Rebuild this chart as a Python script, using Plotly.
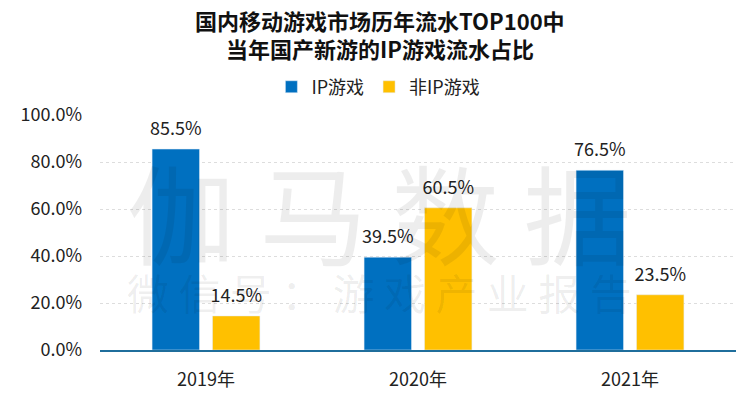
import plotly.graph_objects as go

categories = ["2019年", "2020年", "2021年"]
ip_values = [85.5, 39.5, 76.5]
non_ip_values = [14.5, 60.5, 23.5]
series_names = ["IP游戏", "非IP游戏"]
series_colors = ["#0070C0", "#FFC000"]
title_lines = ["国内移动游戏市场历年流水TOP100中", "当年国产新游的IP游戏流水占比"]
y_ticks = [0, 20, 40, 60, 80, 100]

FONT = "Noto Sans CJK SC, Microsoft YaHei, sans-serif"
GAP = 0.43

fig = go.Figure()
for name, vals, col in zip(series_names, [ip_values, non_ip_values], series_colors):
    fig.add_bar(x=categories, y=vals, name=name, marker_color=col, hoverinfo="skip")
# value labels, grouped like the bars
for name, vals in zip(series_names, [ip_values, non_ip_values]):
    fig.add_scatter(x=categories, y=vals, mode="markers+text", showlegend=False,
                    text=[f"{v:.1f}%" for v in vals], textposition="top center",
                    textfont=dict(size=18, color="#222", family=FONT),
                    marker=dict(size=14, color="rgba(0,0,0,0)"), cliponaxis=False,
                    hoverinfo="skip")

# watermark
fig.add_annotation(text="伽 马 数 据", x=0.44, y=0.596, xref="paper", yref="paper", showarrow=False,
                   font=dict(size=108, color="rgba(0,0,0,0.07)", family=FONT))
fig.add_annotation(text="微 信 号 ： 游 戏 产 业 报 告", x=0.44, y=0.111, xref="paper", yref="paper",
                   showarrow=False, font=dict(size=42, color="rgba(0,0,0,0.07)", family=FONT))

# title lines
for i, line in enumerate(title_lines):
    fig.add_annotation(text=f"<b>{line}</b>", x=0.44, xref="paper", xanchor="center",
                       y=[1.404, 1.287][i], yref="paper", yanchor="middle", showarrow=False,
                       font=dict(size=22, color="#111", family=FONT))

fig.update_layout(
    width=750, height=399,
    margin=dict(l=92, r=22, t=107, b=57, autoexpand=False),
    paper_bgcolor="white", plot_bgcolor="white",
    font=dict(family=FONT, color="#222"),
    legend=dict(orientation="h", x=0.2695, xanchor="left", y=1.119, yanchor="middle",
                font=dict(size=18), itemwidth=30, traceorder="normal"),
    barmode="group", bargap=GAP, bargroupgap=0.215,
    scattermode="group", scattergap=GAP,
    xaxis=dict(showline=True, linecolor="#1F6E9C", linewidth=1.5, ticks="",
               tickfont=dict(size=18), showgrid=False, automargin=False,
               ticklabelstandoff=13),
    yaxis=dict(range=[0, 100], tickvals=y_ticks, ticktext=[f"{v:.1f}%" for v in y_ticks],
               tickfont=dict(size=18), showgrid=True, gridcolor="#DDDDDD", griddash="dot",
               zeroline=False, showline=False, ticks="", ticklen=0, automargin=False,
               ticklabelstandoff=17),
)

fig.write_html("out.html")
